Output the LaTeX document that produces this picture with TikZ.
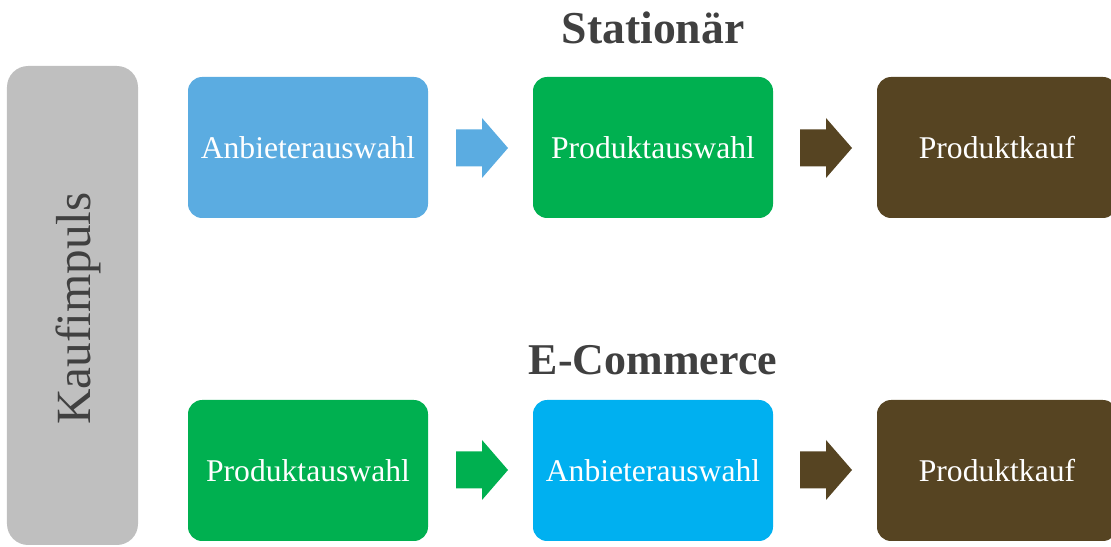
\documentclass[tikz,border=0pt]{standalone}
\usepackage{fontspec}
\setmainfont{Liberation Serif}
\definecolor{kgray}{HTML}{BFBFBF}
\definecolor{ktext}{HTML}{404040}
\definecolor{kblue}{HTML}{5BACE1}
\definecolor{kcyan}{HTML}{00B0F0}
\definecolor{kgreen}{HTML}{00B050}
\definecolor{kbrown}{HTML}{564422}
% block arrow starting at a named coordinate
\newcommand{\pfeil}[2]{%
  \fill [#2] (#1) ++(0,0.37) -- ++(0.52,0) -- ++(0,0.23) -- ++(0.52,-0.6)
    -- ++(-0.52,-0.6) -- ++(0,0.23) -- ++(-0.52,0) -- cycle;}

\begin{document}
\begin{tikzpicture}[
    stage/.style={rounded corners=8pt, minimum width=4.8cm, minimum height=2.82cm,
      text=white, font=\fontsize{18}{21}\selectfont, inner sep=0pt},
    titel/.style={text=ktext, font=\bfseries\fontsize{26}{30}\selectfont}]
  \useasboundingbox (0,0) rectangle (22.22,10.94);

  \node [fill=kgray, rounded corners=12pt, minimum width=2.62cm, minimum height=9.58cm]
    (impuls) at (1.45,4.83) {};
  \node [rotate=90, text=ktext, font=\fontsize{28}{32}\selectfont] (impulstext)
    at (1.56,4.77) {Kaufimpuls};

  % stationaer
  \node [titel] (stat) at (13.06,10.38) {Stationär};
  \node [stage, fill=kblue] (s1) at (6.16,7.99) {Anbieterauswahl};
  \node [stage, fill=kgreen] (s2) at (13.06,7.99) {Produktauswahl};
  \node [stage, fill=kbrown] (s3) at (19.94,7.99) {Produktkauf};
  \coordinate (sp1) at (9.12,7.98);
  \coordinate (sp2) at (16.0,7.98);
  \pfeil{sp1}{kblue}
  \pfeil{sp2}{kbrown}

  % e-commerce
  \node [titel, font=\bfseries\fontsize{25}{30}\selectfont] (ecom) at (13.06,3.74) {E-Commerce};
  \node [stage, fill=kgreen] (e1) at (6.16,1.53) {Produktauswahl};
  \node [stage, fill=kcyan] (e2) at (13.06,1.53) {Anbieterauswahl};
  \node [stage, fill=kbrown] (e3) at (19.94,1.53) {Produktkauf};
  \coordinate (ep1) at (9.12,1.54);
  \coordinate (ep2) at (16.0,1.54);
  \pfeil{ep1}{kgreen}
  \pfeil{ep2}{kbrown}
\end{tikzpicture}
\end{document}
